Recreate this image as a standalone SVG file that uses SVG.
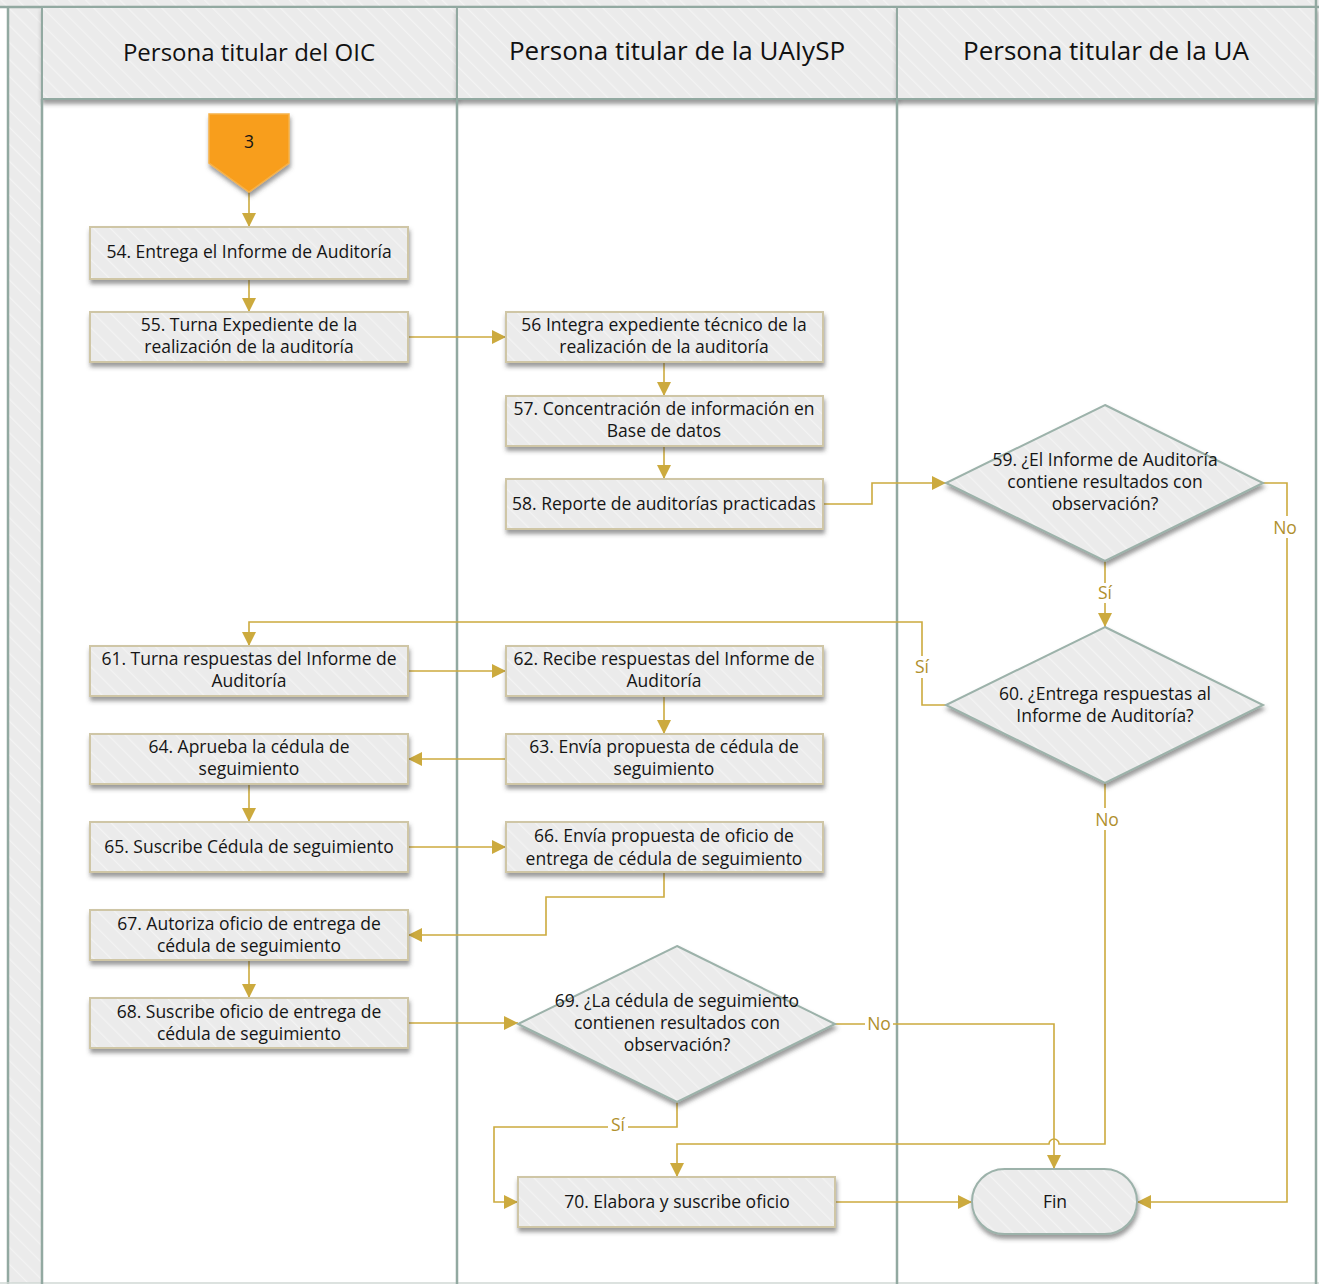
<svg xmlns="http://www.w3.org/2000/svg" width="1319" height="1284" viewBox="0 0 1319 1284">
<defs>
  <pattern id="stripe" patternUnits="userSpaceOnUse" width="12" height="12" patternTransform="rotate(-45)">
    <rect width="12" height="12" fill="#EBEBEB"/>
    <line x1="0" y1="0" x2="0" y2="12" stroke="#F3F3F3" stroke-width="2.5"/>
  </pattern>
  <filter id="sh" x="-10%" y="-20%" width="125%" height="160%">
    <feDropShadow dx="1" dy="4" stdDeviation="2" flood-color="#4a4a4a" flood-opacity="0.55"/>
  </filter>
  <marker id="arr" viewBox="0 0 10 10" refX="10" refY="5" markerWidth="14" markerHeight="14" markerUnits="userSpaceOnUse" orient="auto">
    <path d="M0,0 L10,5 L0,10 z" fill="#CCAA3E"/>
  </marker>
  <style>
    .lane { fill: url(#stripe); stroke: #92A9A1; stroke-width: 2; }
    .div { stroke: #92A9A1; stroke-width: 2.5; fill: none; }
    .hdr { font-family: "Open Sans", "Noto Sans", sans-serif; font-size: 24px; fill: #111; text-anchor: middle; }
    .hdr2 { font-family: "Open Sans", "Noto Sans", sans-serif; font-size: 26px; fill: #111; text-anchor: middle; }
    .box { fill: url(#stripe); stroke: #CFC6A6; stroke-width: 2; filter: url(#sh); }
    .dia { fill: url(#stripe); stroke: #9CB2AA; stroke-width: 2; filter: url(#sh); }
    .t { font-family: "Open Sans", "Noto Sans", sans-serif; font-size: 17.5px; fill: #151515; text-anchor: middle; }
    .c { fill: none; stroke: #CCAA3E; stroke-width: 1.6; }
    .ca { fill: none; stroke: #CCAA3E; stroke-width: 1.6; marker-end: url(#arr); }
    .lbl { font-family: "Open Sans", "Noto Sans", sans-serif; font-size: 17.5px; fill: #B0902C; text-anchor: middle; }
  </style>
</defs>

<!-- background / pool -->
<rect x="0" y="0" width="1319" height="1284" fill="#FFFFFF"/>
<rect x="0" y="0" width="1319" height="7" fill="url(#stripe)"/>
<rect x="8" y="7" width="34" height="1276" fill="url(#stripe)"/>
<line x1="0" y1="7" x2="1319" y2="7" class="div"/>
<line x1="8" y1="7" x2="8" y2="1284" class="div"/>
<line x1="0" y1="1283" x2="1319" y2="1283" stroke="#D0D8D4" stroke-width="1.5"/>

<!-- lane headers -->
<g id="lane-oic">
  <rect x="42" y="7" width="415" height="92" class="lane" filter="url(#sh)"/>
  <text x="249" y="61" class="hdr">Persona titular del OIC</text>
</g>
<g id="lane-uaiysp">
  <rect x="457" y="7" width="440" height="92" class="lane" filter="url(#sh)"/>
  <text x="677" y="60" class="hdr2">Persona titular de la UAIySP</text>
</g>
<g id="lane-ua">
  <rect x="897" y="7" width="419" height="92" class="lane" filter="url(#sh)"/>
  <text x="1106" y="60" class="hdr2">Persona titular de la UA</text>
</g>
<line x1="42" y1="99" x2="42" y2="1284" class="div"/>
<line x1="457" y1="99" x2="457" y2="1284" class="div"/>
<line x1="897" y1="99" x2="897" y2="1284" class="div"/>
<line x1="1316" y1="0" x2="1316" y2="1284" class="div"/>

<!-- connectors -->
<g id="connectors">
  <path class="ca" d="M249,192 V227"/>
  <path class="ca" d="M249,279 V312"/>
  <path class="ca" d="M408,337 H506"/>
  <path class="ca" d="M664,362 V396"/>
  <path class="ca" d="M664,446 V479"/>
  <path class="ca" d="M823,504 H872 V483 H946"/>
  <path class="ca" d="M1105,561 V627"/>
  <path class="ca" d="M1263,483 H1287 V1202 H1137"/>
  <path class="ca" d="M946,705 H922 V622 H249 V646"/>
  <path class="ca" d="M1105,783 V1144 H1059 A5,5 0 0 0 1049,1144 H677 V1177"/>
  <path class="ca" d="M408,671 H506"/>
  <path class="ca" d="M664,696 V734"/>
  <path class="ca" d="M506,759 H408"/>
  <path class="ca" d="M249,784 V822"/>
  <path class="ca" d="M408,847 H506"/>
  <path class="ca" d="M664,872 V897 H546 V935 H408"/>
  <path class="ca" d="M249,960 V998"/>
  <path class="ca" d="M408,1023 H518"/>
  <path class="ca" d="M835,1024 H1054 V1169"/>
  <path class="ca" d="M677,1102 V1127 H494 V1202 H518"/>
  <path class="ca" d="M835,1202 H972"/>
  <!-- labels -->
  <rect x="1095" y="583" width="20" height="20" fill="#FFFFFF"/>
  <text x="1105" y="599" class="lbl">Sí</text>
  <rect x="1271" y="516" width="29" height="22" fill="#FFFFFF"/>
  <text x="1285" y="534" class="lbl">No</text>
  <rect x="912" y="656" width="20" height="22" fill="#FFFFFF"/>
  <text x="922" y="673" class="lbl">Sí</text>
  <rect x="1092" y="808" width="29" height="22" fill="#FFFFFF"/>
  <text x="1107" y="826" class="lbl">No</text>
  <rect x="865" y="1014" width="28" height="20" fill="#FFFFFF"/>
  <text x="879" y="1030" class="lbl">No</text>
  <rect x="608" y="1115" width="20" height="20" fill="#FFFFFF"/>
  <text x="618" y="1131" class="lbl">Sí</text>
</g>

<!-- nodes -->
<g id="n3">
  <polygon points="209,114 289,114 289,163 249,192 209,163" fill="#F89E1F" stroke="#F6B24A" stroke-width="1.5" filter="url(#sh)"/>
  <text x="249" y="148" class="t">3</text>
</g>
<g id="n54">
  <rect x="90" y="227" width="318" height="52" class="box"/>
  <text x="249" y="258" class="t">54. Entrega el Informe de Auditoría</text>
</g>
<g id="n55">
  <rect x="90" y="312" width="318" height="50" class="box"/>
  <text x="249" y="331" class="t">55. Turna Expediente de la</text>
  <text x="249" y="353" class="t">realización de la auditoría</text>
</g>
<g id="n56">
  <rect x="506" y="312" width="317" height="50" class="box"/>
  <text x="664" y="331" class="t">56 Integra expediente técnico de la</text>
  <text x="664" y="353" class="t">realización de la auditoría</text>
</g>
<g id="n57">
  <rect x="506" y="396" width="317" height="50" class="box"/>
  <text x="664" y="415" class="t">57. Concentración de información en</text>
  <text x="664" y="437" class="t">Base de datos</text>
</g>
<g id="n58">
  <rect x="506" y="479" width="317" height="50" class="box"/>
  <text x="664" y="510" class="t">58. Reporte de auditorías practicadas</text>
</g>
<g id="n59">
  <polygon points="1105,405 1263,483 1105,561 946,483" class="dia"/>
  <text x="1105" y="466" class="t">59. ¿El Informe de Auditoría</text>
  <text x="1105" y="488" class="t">contiene resultados con</text>
  <text x="1105" y="510" class="t">observación?</text>
</g>
<g id="n60">
  <polygon points="1105,627 1263,705 1105,783 946,705" class="dia"/>
  <text x="1105" y="700" class="t">60. ¿Entrega respuestas al</text>
  <text x="1105" y="722" class="t">Informe de Auditoría?</text>
</g>
<g id="n61">
  <rect x="90" y="646" width="318" height="50" class="box"/>
  <text x="249" y="665" class="t">61. Turna respuestas del Informe de</text>
  <text x="249" y="687" class="t">Auditoría</text>
</g>
<g id="n62">
  <rect x="506" y="646" width="317" height="50" class="box"/>
  <text x="664" y="665" class="t">62. Recibe respuestas del Informe de</text>
  <text x="664" y="687" class="t">Auditoría</text>
</g>
<g id="n63">
  <rect x="506" y="734" width="317" height="50" class="box"/>
  <text x="664" y="753" class="t">63. Envía propuesta de cédula de</text>
  <text x="664" y="775" class="t">seguimiento</text>
</g>
<g id="n64">
  <rect x="90" y="734" width="318" height="50" class="box"/>
  <text x="249" y="753" class="t">64. Aprueba la cédula de</text>
  <text x="249" y="775" class="t">seguimiento</text>
</g>
<g id="n65">
  <rect x="90" y="822" width="318" height="50" class="box"/>
  <text x="249" y="853" class="t">65. Suscribe Cédula de seguimiento</text>
</g>
<g id="n66">
  <rect x="506" y="822" width="317" height="50" class="box"/>
  <text x="664" y="842" class="t">66. Envía propuesta de oficio de</text>
  <text x="664" y="865" class="t">entrega de cédula de seguimiento</text>
</g>
<g id="n67">
  <rect x="90" y="910" width="318" height="50" class="box"/>
  <text x="249" y="930" class="t">67. Autoriza oficio de entrega de</text>
  <text x="249" y="952" class="t">cédula de seguimiento</text>
</g>
<g id="n68">
  <rect x="90" y="998" width="318" height="50" class="box"/>
  <text x="249" y="1018" class="t">68. Suscribe oficio de entrega de</text>
  <text x="249" y="1040" class="t">cédula de seguimiento</text>
</g>
<g id="n69">
  <polygon points="677,946 835,1024 677,1102 518,1024" class="dia"/>
  <text x="677" y="1007" class="t">69. ¿La cédula de seguimiento</text>
  <text x="677" y="1029" class="t">contienen resultados con</text>
  <text x="677" y="1051" class="t">observación?</text>
</g>
<g id="n70">
  <rect x="518" y="1177" width="317" height="50" class="box"/>
  <text x="677" y="1208" class="t">70. Elabora y suscribe oficio</text>
</g>
<g id="fin">
  <rect x="972" y="1169" width="165" height="65" rx="32.5" ry="32.5" class="dia"/>
  <text x="1055" y="1208" class="t">Fin</text>
</g>
</svg>
